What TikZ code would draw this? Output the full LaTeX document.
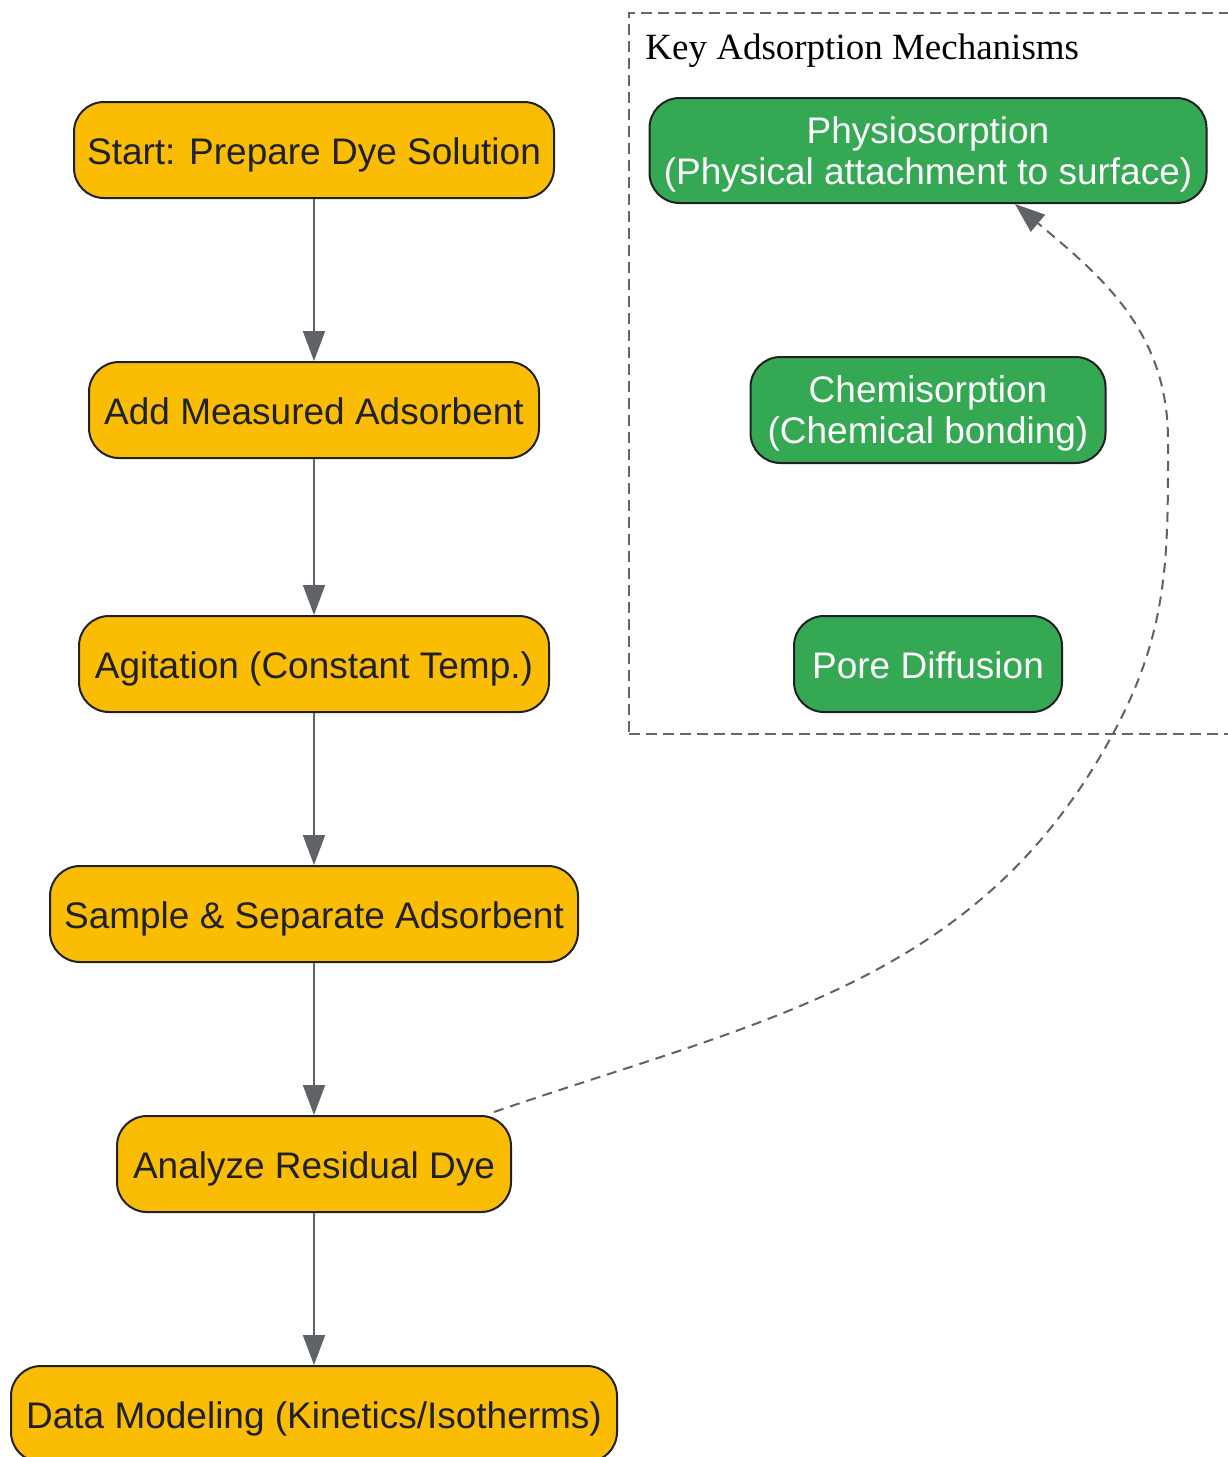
\documentclass[tikz,border=0pt]{standalone}
\usepackage{fontspec}
\setmainfont{Liberation Sans}
\newfontfamily\titleserif{Liberation Serif}
\usetikzlibrary{arrows.meta}
\definecolor{stepyellow}{HTML}{FBBC04}
\definecolor{mechgreen}{HTML}{34A853}
\definecolor{nodeborder}{HTML}{202124}
\definecolor{textdark}{HTML}{202124}
\definecolor{edgegray}{HTML}{5F6368}
\definecolor{boxgray}{HTML}{666666}
\begin{document}
\begin{tikzpicture}[x=0.5pt,y=-0.5pt,
  flowbox/.style={rectangle, rounded corners=15pt, draw=nodeborder, line width=1pt,
    fill=stepyellow, text=textdark, font=\fontsize{18.5}{21.5}\selectfont,
    minimum height=48pt, inner sep=0pt, align=center,
    execute at begin node={\rule[-3.9pt]{0pt}{22.5pt}}},
  mechbox/.style={flowbox, fill=mechgreen, text=white},
  mechtwo/.style={mechbox, font=\fontsize{18.5}{20.5}\selectfont,
    execute at begin node={}, text height=39.65pt, text depth=6.15pt},
  flowedge/.style={draw=edgegray, line width=1pt, -{Triangle[length=15pt,width=11pt]}},
  linkedge/.style={draw=edgegray, line width=1pt, dash pattern=on 5pt off 3.5pt,
    -{Triangle[length=15pt,width=11pt]}},
  groupbox/.style={draw=boxgray, line width=1pt, dash pattern=on 5.5pt off 3pt, inner sep=0pt}
]
\useasboundingbox (0,0) rectangle (1227,1457);

% group box
\node[groupbox, anchor=north west, minimum width=310pt, minimum height=360.5pt] (box) at (628,12) {};
\node[anchor=base west, inner sep=0pt, font=\titleserif\fontsize{18.5}{21.5}\selectfont] (title) at (645,59) {Key Adsorption Mechanisms};

% flow nodes
\node[flowbox, minimum width=240pt] (s1) at (314,150) {Start: Prepare Dye Solution};
\node[flowbox, minimum width=225pt] (s2) at (314,410) {Add Measured Adsorbent};
\node[flowbox, minimum width=235pt] (s3) at (314,664) {Agitation (Constant Temp.)};
\node[flowbox, minimum width=264pt] (s4) at (314,914) {Sample \& Separate Adsorbent};
\node[flowbox, minimum width=197pt] (s5) at (314,1164) {Analyze Residual Dye};
\node[flowbox, minimum width=303pt] (s6) at (314,1414) {Data Modeling (Kinetics/Isotherms)};

% mechanism nodes
\node[mechtwo, minimum width=278.5pt, minimum height=52.5pt] (m1) at (928,150.5)
  {\begin{tabular}[b]{@{}c@{}}Physiosorption\\(Physical attachment to surface)\end{tabular}};
\node[mechtwo, minimum width=177.5pt, minimum height=53pt] (m2) at (928,410)
  {\begin{tabular}[b]{@{}c@{}}Chemisorption\\(Chemical bonding)\end{tabular}};
\node[mechbox, minimum width=134pt, minimum height=48pt] (m3) at (928,664) {Pore Diffusion};

% flow edges
\draw[flowedge] (s1) -- (s2);
\draw[flowedge] (s2) -- (s3);
\draw[flowedge] (s3) -- (s4);
\draw[flowedge] (s4) -- (s5);
\draw[flowedge] (s5) -- (s6);

% dashed link
\coordinate (turn1) at (1115,730);
\coordinate (turn2) at (1168,440);
\draw[linkedge] ([xshift=-9pt,yshift=1.5pt]s5.north east)
  to[out=19,in=-118] (turn1)
  to[out=62,in=-90] (turn2)
  to[out=90,in=-40] ([xshift=43.5pt]m1.south);
\end{tikzpicture}
\end{document}
